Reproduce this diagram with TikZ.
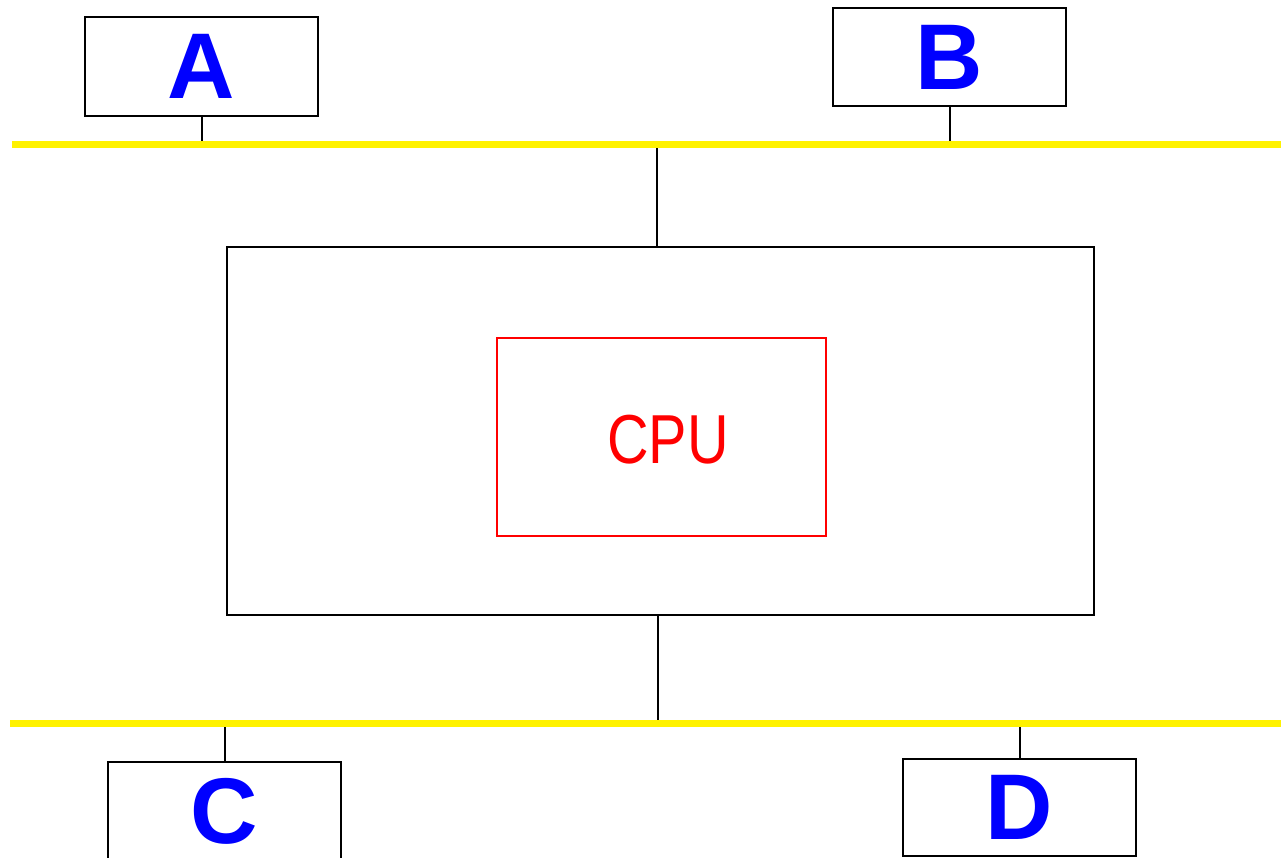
\documentclass[tikz,border=0pt]{standalone}
\usepackage{fontspec}
\newfontfamily\labfont{Liberation Sans}
\begin{document}
\begin{tikzpicture}[x=0.75pt,y=-0.75pt,
  devbox/.style={draw=black,line width=1.5pt,fill=white,inner sep=0pt,
    minimum width=174.75pt,minimum height=73.5pt,text=blue,
    font=\labfont\fontsize{70}{80}\selectfont\bfseries},
  bigbox/.style={draw=black,line width=1.5pt,inner sep=0pt,
    minimum width=650.25pt,minimum height=276pt},
  cpubox/.style={draw=red,line width=1.2pt,inner sep=0pt,
    minimum width=246.75pt,minimum height=148.5pt},
  conn/.style={draw=black,line width=1.5pt},
  bus/.style={draw=yellow,line width=5.25pt}]
\useasboundingbox (0,0) rectangle (1281,857);
\fill[white] (0,0) rectangle (1281,857);
% bus end points
\coordinate (tb1) at (12,144);
\coordinate (tb2) at (1281,144);
\coordinate (bb1) at (10,723.5);
\coordinate (bb2) at (1281,723.5);
% devices
\node[devbox,minimum height=74.25pt] (A) at (201.5,66.5) {A};
\node[devbox] (B) at (949.5,57) {B};
\node[devbox] (C) at (224.5,811) {C};
\node[devbox,minimum height=72.75pt] (D) at (1019.5,807.5) {D};
% main box and cpu
\node[bigbox] (big) at (660.5,431) {};
\node[cpubox] (cpu) at (661.5,437) {};
\node[text=red,inner sep=0pt,font=\labfont\fontsize{52}{60}\selectfont] (cputxt) at (668,440) {\scalebox{0.83}[1]{CPU}};
\coordinate (bt) at (657,247);
\coordinate (bbt) at (658,615);
% connectors
\draw[conn] (A.south) -- (A.south |- tb1);
\draw[conn] (B.south) -- (B.south |- tb1);
\draw[conn] (C.north) -- (C.north |- bb1);
\draw[conn] (D.north) -- (D.north |- bb1);
\draw[conn] (bt) -- (bt |- tb1);
\draw[conn] (bbt) -- (bbt |- bb1);
% buses
\draw[bus] (tb1) -- (tb2);
\draw[bus] (bb1) -- (bb2);
\end{tikzpicture}
\end{document}
